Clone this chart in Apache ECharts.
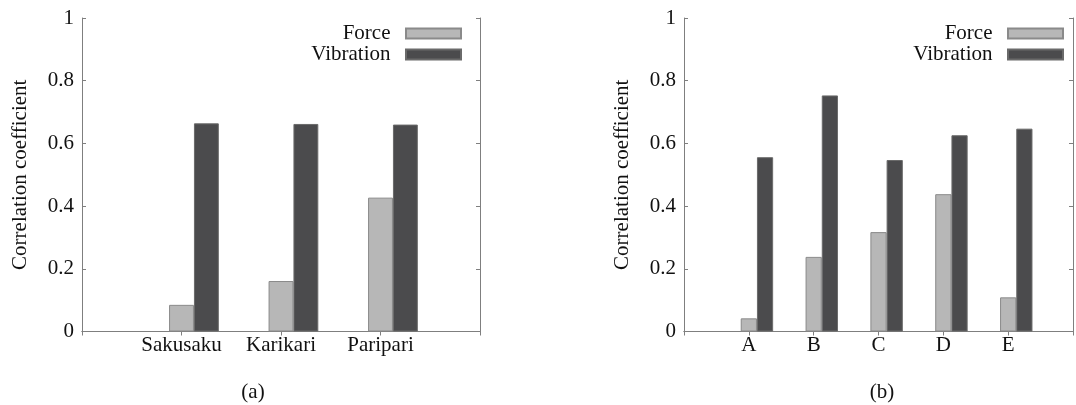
<!DOCTYPE html>
<html>
<head>
<meta charset="utf-8">
<script src="https://cdn.jsdelivr.net/npm/echarts@6/dist/echarts.min.js"></script>
<style>
html,body{margin:0;padding:0;background:#fff;}
#chart{width:1076px;height:405px;}
</style>
</head>
<body>
<div id="chart"></div>
<script>
// ---- data ----
var catsA = ['Sakusaku', 'Karikari', 'Paripari'];
var forceA = [0.085, 0.161, 0.427];
var vibA = [0.664, 0.662, 0.660];

var catsB = ['A', 'B', 'C', 'D', 'E'];
var forceB = [0.042, 0.238, 0.317, 0.438, 0.109];
var vibB = [0.556, 0.753, 0.547, 0.626, 0.647];

var seriesNames = ['Force', 'Vibration'];
var yMin = 0, yMax = 1, yStep = 0.2;
var yName = 'Correlation coefficient';
var panelLabels = ['(a)', '(b)'];

// ---- styling ----
var FONT = 'Liberation Serif';
var FS = 21;
var TXT = '#111111';
var AXC = '#7f7f7f';
var FORCE_C = '#b7b7b7';
var VIB_C = '#4b4b4d';

function pad(arr, v) { return [v].concat(arr).concat([v]); }

var grids = [
  {left: 82, top: 18, width: 398, height: 313.5},
  {left: 684, top: 18, width: 398, height: 313.5}
];
var catSets = [catsA, catsB];
var forceSets = [forceA, forceB];
var vibSets = [vibA, vibB];

var xAxis = [], yAxis = [], series = [];
for (var g = 0; g < 2; g++) {
  var cats = pad(catSets[g], '');
  xAxis.push({
    type: 'category', gridIndex: g, data: cats, boundaryGap: false, position: 'bottom',
    axisLine: {lineStyle: {color: AXC, width: 1}},
    axisTick: {show: false},
    axisLabel: {color: TXT, fontFamily: FONT, fontSize: FS, margin: 3, interval: 0},
    splitLine: {show: false}
  });
  xAxis.push({
    type: 'category', gridIndex: g, data: cats, boundaryGap: false, position: 'top',
    axisLine: {lineStyle: {color: AXC, width: 1}},
    axisTick: {show: true, inside: true, length: 4, interval: 0, lineStyle: {color: AXC}},
    axisLabel: {show: false},
    splitLine: {show: false}
  });
  yAxis.push({
    type: 'value', gridIndex: g, min: yMin, max: yMax, interval: yStep, position: 'left',
    name: yName, nameLocation: 'middle', nameGap: 51,
    nameTextStyle: {color: TXT, fontFamily: FONT, fontSize: FS},
    axisLine: {show: true, lineStyle: {color: AXC, width: 1}},
    axisTick: {show: true, inside: true, length: 4, lineStyle: {color: AXC}},
    axisLabel: {color: TXT, fontFamily: FONT, fontSize: FS, margin: 8},
    splitLine: {show: false}
  });
  yAxis.push({
    type: 'value', gridIndex: g, min: yMin, max: yMax, interval: yStep, position: 'right',
    axisLine: {show: true, lineStyle: {color: AXC, width: 1}},
    axisTick: {show: true, inside: true, length: 4, lineStyle: {color: AXC}},
    axisLabel: {show: false},
    splitLine: {show: false}
  });
  var xi = g * 2, yi = g * 2;
  series.push({
    type: 'bar', name: 'pad', xAxisIndex: xi, yAxisIndex: yi,
    data: pad(catSets[g].map(function () { return null; }), null),
    barWidth: '25%', barGap: '0%', silent: true
  });
  series.push({
    type: 'bar', name: seriesNames[0], xAxisIndex: xi, yAxisIndex: yi,
    data: pad(forceSets[g], null), barWidth: '25%', barGap: '0%',
    itemStyle: {color: FORCE_C, borderColor: '#8a8a8a', borderWidth: 1}
  });
  series.push({
    type: 'bar', name: seriesNames[1], xAxisIndex: xi, yAxisIndex: yi,
    data: pad(vibSets[g], null), barWidth: '25%', barGap: '0%',
    itemStyle: {color: VIB_C, borderColor: '#6a6a6a', borderWidth: 1}
  });
}

function legendAt(rightPx) {
  return {
    data: seriesNames, orient: 'vertical', align: 'right',
    right: rightPx, top: 23, padding: 0, itemGap: 0,
    itemWidth: 55, itemHeight: 10, icon: 'rect',
    selectedMode: false,
    formatter: function (n) { return n + '  '; },
    textStyle: {color: TXT, fontFamily: FONT, fontSize: FS, lineHeight: 20}
  };
}

var option = {
  animation: false,
  backgroundColor: '#ffffff',
  grid: grids,
  xAxis: xAxis,
  yAxis: yAxis,
  series: series,
  legend: [legendAt(1076 - 462), legendAt(1076 - 1064)],
  title: [
    {text: panelLabels[0], left: 253, top: 382, textAlign: 'center', padding: 0,
     textStyle: {color: TXT, fontFamily: FONT, fontSize: FS, fontWeight: 'normal'}},
    {text: panelLabels[1], left: 882, top: 382, textAlign: 'center', padding: 0,
     textStyle: {color: TXT, fontFamily: FONT, fontSize: FS, fontWeight: 'normal'}}
  ]
};

var chart = echarts.init(document.getElementById('chart'));
chart.setOption(option);
</script>
</body>
</html>
